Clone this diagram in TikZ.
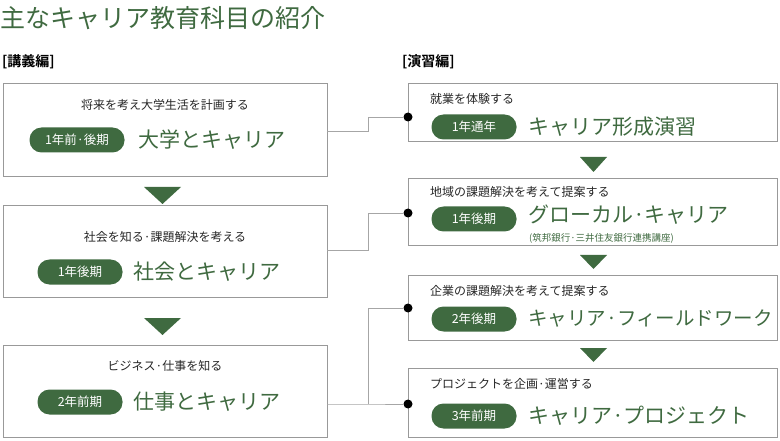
\documentclass[tikz,border=0pt]{standalone}
\usepackage{fontspec}
\setmainfont{Noto Sans CJK JP}[BoldFont={Noto Sans CJK JP Bold}]
\begin{document}
\begin{tikzpicture}[x=1pt,y=-1pt,
 box/.style={draw=gray!80,line width=0.9pt},
 pill/.style={fill=gg,rounded corners=12pt,text=white,minimum height=25pt,inner sep=0pt,font=\fontsize{12.5}{12.5}\selectfont},
 small/.style={text=black!85,font=\fontsize{12}{12}\selectfont,inner sep=0pt},
 big/.style={text=gg,font=\fontsize{21}{21}\selectfont,inner sep=0pt},
 tri/.style={fill=gg},
 ln/.style={draw=gray!70,line width=0.9pt},
 dot/.style={circle,fill=black,minimum size=9pt,inner sep=0pt}]
\definecolor{gg}{HTML}{3F6A40}
\useasboundingbox (0,0) rectangle (780,441);
\node[anchor=west,text=gg,font=\fontsize{25}{25}\selectfont,inner sep=0pt] (title) at (0,18) {主なキャリア教育科目の紹介};
\node[anchor=west,font=\bfseries\fontsize{14}{14}\selectfont,inner sep=0pt] (h1) at (2,62) {[講義編]};
\node[anchor=west,font=\bfseries\fontsize{14}{14}\selectfont,inner sep=0pt] (h2) at (402,62) {[演習編]};
% left boxes
\draw[box] (3,83) rectangle (327,176);
\draw[box] (3,205) rectangle (327,297);
\draw[box] (3,345) rectangle (327,437);
\coordinate (L1) at (327,131); \coordinate (L2) at (327,250); \coordinate (L3) at (327,404);
\node[small] (s1) at (165,105) {将来を考え大学生活を計画する};
\node[pill,minimum width=95pt] (p1) at (77,140) {1年前·後期};
\node[big,anchor=west] (b1) at (138,140) {大学とキャリア};
\node[small] (s2) at (165,237) {社会を知る·課題解決を考える};
\node[pill,minimum width=85pt] (p2) at (80,272) {1年後期};
\node[big,anchor=west] (b2) at (133,272) {社会とキャリア};
\node[small] (s3) at (165,366) {ビジネス·仕事を知る};
\node[pill,minimum width=85pt] (p3) at (80,402) {2年前期};
\node[big,anchor=west] (b3) at (133,402) {仕事とキャリア};
\fill[tri] (144,187) -- (181,187) -- (162.5,204) -- cycle;
\fill[tri] (144,318) -- (181,318) -- (162.5,335) -- cycle;
% right boxes
\draw[box] (408,83) rectangle (777,141);
\draw[box] (408,178) rectangle (777,245);
\draw[box] (408,275) rectangle (777,340);
\draw[box] (408,368) rectangle (777,437);
\node[small,anchor=west] (s4) at (430,99) {就業を体験する};
\node[pill,minimum width=85pt] (p4) at (474,127) {1年通年};
\node[big,anchor=west] (b4) at (528,127) {キャリア形成演習};
\node[small,anchor=west] (s5) at (430,192) {地域の課題解決を考えて提案する};
\node[pill,minimum width=85pt] (p5) at (474,219) {1年後期};
\node[big,anchor=west] (b5) at (528,215) {グローカル·キャリア};
\node[anchor=west,inner sep=0pt,font=\fontsize{9.5}{9.5}\selectfont,text=gg] (c5) at (529,238) {(筑邦銀行·三井住友銀行連携講座)};
\node[small,anchor=west] (s6) at (430,291) {企業の課題解決を考えて提案する};
\node[pill,minimum width=85pt] (p6) at (474,319) {2年後期};
\node[big,anchor=west,font=\fontsize{19.5}{19.5}\selectfont] (b6) at (528,319) {キャリア·フィールドワーク};
\node[small,anchor=west] (s7) at (430,384) {プロジェクトを企画·運営する};
\node[pill,minimum width=85pt] (p7) at (474,416) {3年前期};
\node[big,anchor=west] (b7) at (528,416) {キャリア·プロジェクト};
\fill[tri] (580,157) -- (607,157) -- (593.5,172) -- cycle;
\fill[tri] (580,255) -- (607,255) -- (593.5,269) -- cycle;
\fill[tri] (580,348) -- (607,348) -- (593.5,362) -- cycle;
\node[dot] (d1) at (408,117) {};
\node[dot] (d2) at (408,213) {};
\node[dot] (d3) at (408,308) {};
\node[dot] (d4) at (408,404) {};
\coordinate (j) at (368,404);
\draw[ln] (L1) -- (368,131) -- (368,117) -- (d1);
\draw[ln] (L2) -- (368,250) -- (368,213) -- (d2);
\draw[ln] (L3) -- (j) -- (d4);
\draw[ln] (j) -- (368,308) -- (d3);
\end{tikzpicture}
\end{document}
